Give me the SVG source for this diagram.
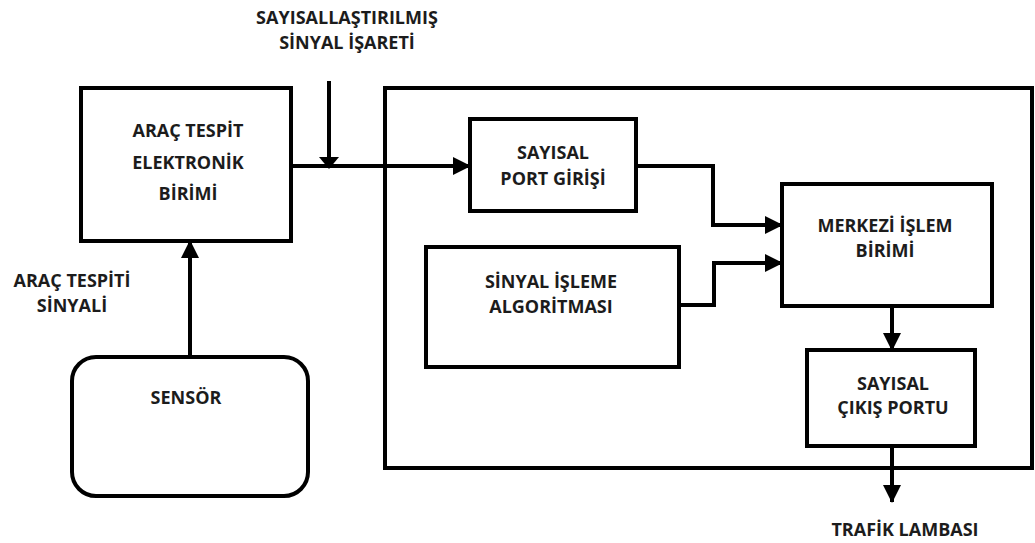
<svg xmlns="http://www.w3.org/2000/svg" width="1035" height="543" viewBox="0 0 1035 543">
<style>
.box{fill:#fff;stroke:#000;stroke-width:4}
.frame{fill:none;stroke:#000;stroke-width:4}
.ln{fill:none;stroke:#000;stroke-width:4}
.t{font-family:"Open Sans","Noto Sans",sans-serif;font-weight:bold;font-size:18px;fill:#1c1c1c;text-anchor:middle;dominant-baseline:central}
</style>
<defs>
<marker id="ah" markerUnits="userSpaceOnUse" markerWidth="18" markerHeight="18" refX="17" refY="9" orient="auto">
<path d="M0,0 L18,9 L0,18 z" fill="#000"/>
</marker>
<marker id="ahs" markerUnits="userSpaceOnUse" markerWidth="12" markerHeight="20" refX="11" refY="10" orient="auto">
<path d="M0,0 L12,10 L0,20 z" fill="#000"/>
</marker>
</defs>
<rect width="1035" height="543" fill="#fff"/>
<g id="frame"><rect class="frame" x="385" y="88" width="647" height="380"/></g>
<g id="arac-tespit">
<rect class="box" x="81" y="88" width="210" height="153"/>
<text class="t" x="188" y="130">ARAÇ TESPİT</text>
<text class="t" x="188" y="162">ELEKTRONİK</text>
<text class="t" x="188" y="193">BİRİMİ</text>
</g>
<g id="sensor">
<rect class="box" x="72" y="357" width="236" height="139" rx="24" ry="24"/>
<text class="t" x="186" y="397">SENSÖR</text>
</g>
<g id="port-girisi">
<rect class="box" x="470" y="119" width="166" height="92"/>
<text class="t" x="553" y="152">SAYISAL</text>
<text class="t" x="553" y="178">PORT GİRİŞİ</text>
</g>
<g id="sinyal-isleme">
<rect class="box" x="426" y="247" width="253" height="120"/>
<text class="t" x="551" y="281">SİNYAL İŞLEME</text>
<text class="t" x="551" y="306">ALGORİTMASI</text>
</g>
<g id="merkezi">
<rect class="box" x="782" y="184" width="210" height="122"/>
<text class="t" x="885" y="225">MERKEZİ İŞLEM</text>
<text class="t" x="885" y="250">BİRİMİ</text>
</g>
<g id="cikis">
<rect class="box" x="807" y="350" width="168" height="96"/>
<text class="t" x="893" y="383">SAYISAL</text>
<text class="t" x="893" y="407">ÇIKIŞ PORTU</text>
</g>
<g id="labels">
<text class="t" x="347" y="17">SAYISALLAŞTIRILMIŞ</text>
<text class="t" x="347" y="42">SİNYAL İŞARETİ</text>
<text class="t" x="72" y="280">ARAÇ TESPİTİ</text>
<text class="t" x="72" y="305">SİNYALİ</text>
<text class="t" x="905" y="529">TRAFİK LAMBASI</text>
</g>
<g id="connectors">
<path class="ln" d="M291,166 H470" marker-end="url(#ah)"/>
<path class="ln" d="M329,81 V168" stroke-width="5" marker-end="url(#ahs)"/>
<path class="ln" d="M190,357 V241" stroke-width="3.5" marker-end="url(#ah)"/>
<path class="ln" d="M636,166 H713 V225 H782" marker-end="url(#ah)"/>
<path class="ln" d="M679,305 H714 V263 H782" marker-end="url(#ah)"/>
<path class="ln" d="M892,306 V350" marker-end="url(#ah)"/>
<path class="ln" d="M892,446 V502" marker-end="url(#ah)"/>
</g>
</svg>
